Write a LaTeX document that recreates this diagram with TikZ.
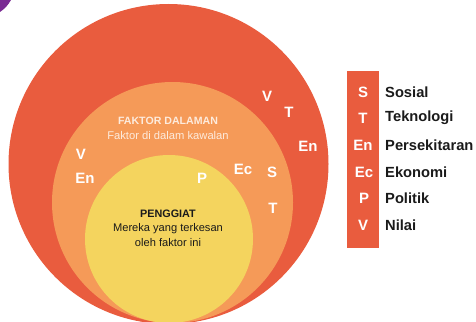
\documentclass[tikz,border=0pt]{standalone}
\usepackage{fontspec}
\setmainfont{Liberation Sans}
\definecolor{outerc}{HTML}{E95C3E}
\definecolor{midc}{HTML}{F59A58}
\definecolor{innerc}{HTML}{F4D45E}
\definecolor{purp}{HTML}{7A2B93}
\definecolor{lighttxt}{HTML}{FDEBDD}
\definecolor{darktxt}{HTML}{1A1A1A}
\tikzset{
  letter/.style={text=white,font=\bfseries\fontsize{15}{17}\selectfont,inner sep=0pt,anchor=center},
  legletter/.style={text=white,font=\bfseries\fontsize{15}{17}\selectfont,inner sep=0pt,anchor=center},
  legword/.style={text=darktxt,font=\bfseries\fontsize{14.7}{16}\selectfont,inner sep=0pt,anchor=west},
}
\begin{document}
\begin{tikzpicture}[x=1pt,y=-1pt]
\useasboundingbox (0,0) rectangle (476,321);
\begin{scope}
\clip (0,0) rectangle (476,321);
\fill[purp] (0,0) -- (11,0) to[bend left=12] (0,12) -- cycle;
\fill[outerc] (168.5,164) circle[radius=160];
\fill[midc] (172.5,202.5) circle[radius=120.5];
\fill[innerc] (169,239) circle[radius=84];
\end{scope}
% inner labels
\node[text=lighttxt,font=\bfseries\fontsize{10.6}{12}\selectfont,inner sep=0pt] (fd) at (168,121) {FAKTOR DALAMAN};
\node[text=lighttxt,font=\fontsize{11.2}{12}\selectfont,inner sep=0pt] (fdk) at (168,135) {Faktor di dalam kawalan};
\node[text=darktxt,font=\bfseries\fontsize{10.8}{12}\selectfont,inner sep=0pt] (pg) at (168,214) {PENGGIAT};
\node[text=darktxt,font=\fontsize{11.1}{12}\selectfont,inner sep=0pt] (pg1) at (168,229) {Mereka yang terkesan};
\node[text=darktxt,font=\fontsize{11.1}{12}\selectfont,inner sep=0pt] (pg2) at (168,243) {oleh faktor ini};
% letters
\node[letter] (o1) at (267,96) {V};
\node[letter] (o2) at (289,112) {T};
\node[letter] (o3) at (308,146) {En};
\node[letter] (m1) at (81,154) {V};
\node[letter] (m2) at (85,178) {En};
\node[letter] (m3) at (243,169) {Ec};
\node[letter] (m4) at (272,172) {S};
\node[letter] (m5) at (273,208) {T};
\node[letter] (i1) at (202,178) {P};
% legend
\fill[outerc] (347,71) rectangle (379,248);
\node[legletter] (l1) at (363,92) {S};
\node[legletter] (l2) at (363,118) {T};
\node[legletter] (l3) at (363,145) {En};
\node[legletter] (l4) at (364,172) {Ec};
\node[legletter] (l5) at (364,198) {P};
\node[legletter] (l6) at (363,225) {V};
\node[legword] (w1) at (385,92) {Sosial};
\node[legword] (w2) at (385,118) {Teknologi};
\node[legword] (w3) at (385,145) {Persekitaran};
\node[legword] (w4) at (385,172) {Ekonomi};
\node[legword] (w5) at (385,198) {Politik};
\node[legword] (w6) at (385,225) {Nilai};
\end{tikzpicture}
\end{document}
